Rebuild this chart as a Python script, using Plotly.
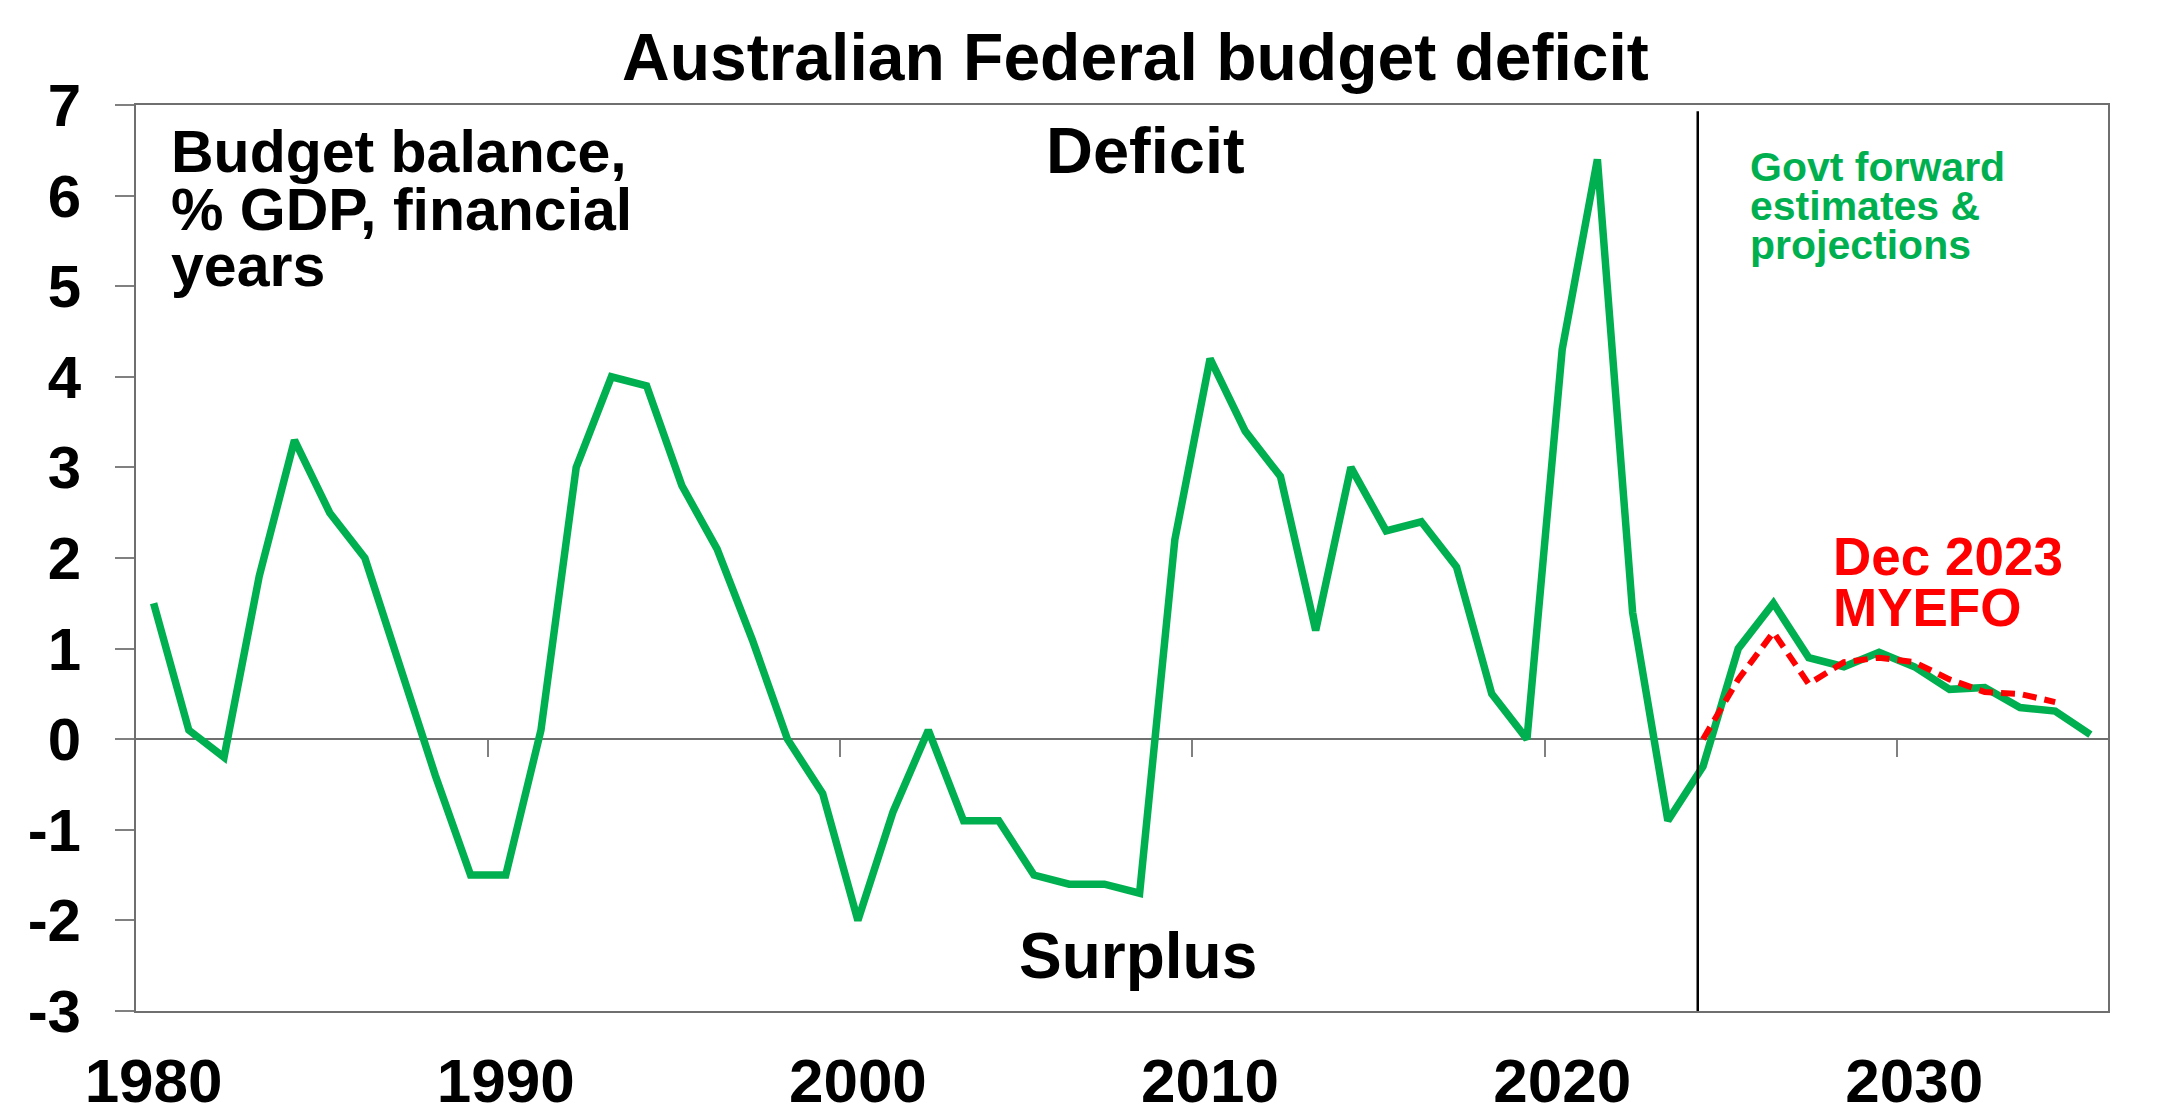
import plotly.graph_objects as go

# Financial years (points sit on the year, ticks between decades)
years = list(range(1980, 2036))

# Budget deficit, % of GDP (positive = deficit)
deficit = [1.5, 0.1, -0.2, 1.8, 3.3, 2.5, 2.0, 0.8, -0.4, -1.5,
           -1.5, 0.1, 3.0, 4.0, 3.9, 2.8, 2.1, 1.1, 0.0, -0.6,
           -2.0, -0.8, 0.1, -0.9, -0.9, -1.5, -1.6, -1.6, -1.7, 2.2,
           4.2, 3.4, 2.9, 1.2, 3.0, 2.3, 2.4, 1.9, 0.5, 0.0,
           4.3, 6.4, 1.4, -0.9, -0.3, 1.0, 1.5, 0.9, 0.8, 0.96,
           0.8, 0.55, 0.57, 0.35, 0.31, 0.05]

# Dec 2023 MYEFO projections
myefo_years = list(range(2024, 2035))
myefo = [0.0, 0.66, 1.18, 0.61, 0.85, 0.9, 0.85, 0.66, 0.52, 0.5, 0.41]

y_ticks = [7, 6, 5, 4, 3, 2, 1, 0, -1, -2, -3]
y_labels = ["7", "6", "5", "4", "3", "2", "1", "0", "-1", "-2", "-3"]
x_ticks = [1980, 1990, 2000, 2010, 2020, 2030]
x_bounds = [1989.5, 1999.5, 2009.5, 2019.5, 2029.5]

FONT = "Liberation Sans, Arial, sans-serif"
GREEN = "#00B050"
RED = "#FF0000"

fig = go.Figure()
fig.add_trace(go.Scatter(x=years, y=deficit, mode="lines",
                         line=dict(color=GREEN, width=7.5), name="Budget"))
fig.add_trace(go.Scatter(x=myefo_years, y=myefo, mode="lines",
                         line=dict(color=RED, width=6, dash="14px,8px"), name="MYEFO"))
# invisible trace so the zero-line tick axis gets drawn
fig.add_trace(go.Scatter(x=years[:1], y=deficit[:1], xaxis="x2", mode="markers",
                         marker=dict(opacity=0), hoverinfo="skip", showlegend=False))

# divider between actuals and forward estimates
fig.add_shape(type="line", xref="x", yref="y", x0=2023.85, x1=2023.85, y0=-3.04, y1=6.93,
              line=dict(color="black", width=2.5))

fig.update_layout(
    width=2173, height=1113,
    margin=dict(l=128, r=73, t=97, b=110),
    paper_bgcolor="white", plot_bgcolor="white",
    showlegend=False,
    font=dict(family=FONT, color="black", weight="bold"),
    xaxis=dict(range=[1979.5, 2035.5], tickvals=x_ticks, ticks="", automargin=False,
               tickfont=dict(size=62, weight="bold"), ticklabelstandoff=15,
               showgrid=False, zeroline=False,
               showline=True, mirror=True, linecolor="#6f6f6f", linewidth=2),
    xaxis2=dict(matches="x", overlaying="x", anchor="free", position=0.3, side="bottom",
                tickvals=x_bounds, ticks="outside", ticklen=17, tickwidth=2, tickcolor="#808080",
                showticklabels=False, showgrid=False, zeroline=False, showline=False,
                automargin=False),
    yaxis=dict(range=[-3, 7], tickvals=y_ticks, ticktext=y_labels, automargin=False,
               ticks="outside", ticklen=19, tickwidth=2, tickcolor="#808080",
               tickfont=dict(size=60, weight="bold"), ticklabelstandoff=22,
               showgrid=False, zeroline=True, zerolinecolor="#6f6f6f", zerolinewidth=2,
               showline=True, mirror=True, linecolor="#6f6f6f", linewidth=2),
)

annotations = [
    dict(text="Australian Federal budget deficit", x=0.507, y=1.053, size=66, color="black", anchor="center"),
    dict(text="Budget balance,", x=0.0167, y=0.948, size=59, color="black", anchor="left"),
    dict(text="% GDP, financial", x=0.0167, y=0.884, size=59, color="black", anchor="left"),
    dict(text="years", x=0.0167, y=0.822, size=59, color="black", anchor="left"),
    dict(text="Deficit", x=0.512, y=0.950, size=65, color="black", anchor="center"),
    dict(text="Surplus", x=0.508, y=0.061, size=64, color="black", anchor="center"),
    dict(text="Govt forward", x=0.8175, y=0.932, size=41, color=GREEN, anchor="left"),
    dict(text="estimates &", x=0.8175, y=0.889, size=41, color=GREEN, anchor="left"),
    dict(text="projections", x=0.8175, y=0.845, size=41, color=GREEN, anchor="left"),
    dict(text="Dec 2023", x=0.8595, y=0.502, size=53, color=RED, anchor="left"),
    dict(text="MYEFO", x=0.8595, y=0.445, size=53, color=RED, anchor="left"),
]
for a in annotations:
    fig.add_annotation(text=a["text"], x=a["x"], y=a["y"], xref="paper", yref="paper",
                       xanchor=a["anchor"], yanchor="middle", showarrow=False,
                       font=dict(family=FONT, size=a["size"], color=a["color"], weight="bold"))

fig.write_html("out.html")
